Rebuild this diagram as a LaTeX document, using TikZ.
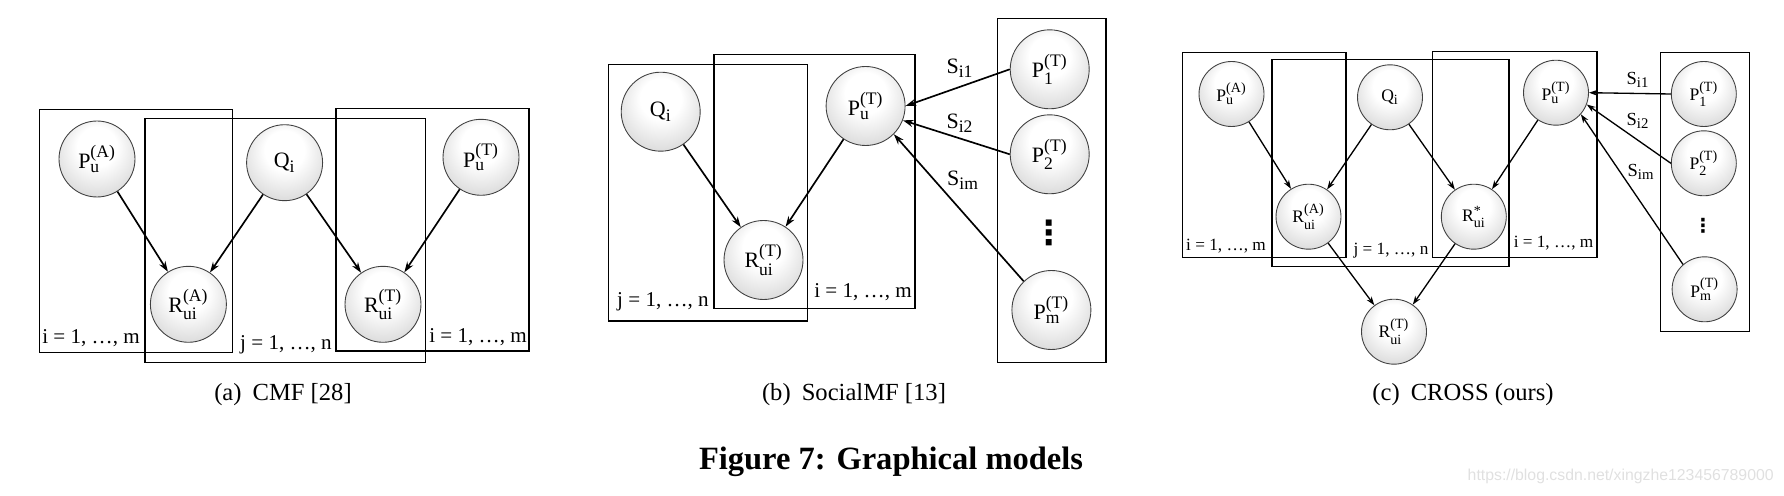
\documentclass[tikz,border=0pt]{standalone}
\usepackage{fontspec}
\setmainfont{Liberation Serif}
\newfontfamily\wmfont{Liberation Sans}
\newfontfamily\symfont{DejaVu Sans}
\usetikzlibrary{arrows.meta}

% soft white-to-grey fill of the variable nodes
\pgfdeclareradialshading{nodeshade}{\pgfpoint{0bp}{11bp}}{%
  color(0bp)=(white); color(13bp)=(white); color(36bp)=(black!19); color(50bp)=(black!28)}

% variable names with stacked index and superscript
\newcommand{\rv}[3]{$\mathrm{#1}_{\hbox{\scalebox{0.8}{#2}}}^{\hbox{\scalebox{0.8}{#3}}}$}
\newcommand{\rs}[2]{$\mathrm{#1}_{\hbox{\scalebox{0.8}{#2}}}$}

\begin{document}
\begin{tikzpicture}[x=0.02cm,y=-0.02cm,
  var/.style={circle, draw=black!75, line width=0.5pt, shade, shading=nodeshade, inner sep=0pt},
  vara/.style={var, minimum size=1.52cm, font=\fontsize{12.5}{14}\selectfont},
  varb/.style={var, minimum size=1.58cm, font=\fontsize{12.5}{14}\selectfont},
  varc/.style={var, minimum size=1.30cm, font=\fontsize{10}{12}\selectfont},
  plate/.style={draw=black, line width=0.6pt},
  platelab/.style={inner sep=0pt, font=\fontsize{12}{14}\selectfont},
  platelabc/.style={inner sep=0pt, font=\fontsize{9.8}{12}\selectfont},
  link/.style={-{Stealth[length=6pt,width=4pt]}, line width=0.95pt},
  linkc/.style={-{Stealth[length=5pt,width=3.4pt]}, line width=0.75pt},
  weight/.style={inner sep=0pt, font=\fontsize{12.5}{14}\selectfont},
  weightc/.style={inner sep=0pt, font=\fontsize{10.5}{12}\selectfont},
  caption/.style={inner sep=0pt, font=\fontsize{14}{16}\selectfont},
  ellip/.style={inner sep=0pt, font=\symfont\bfseries\fontsize{#1}{#1}\selectfont},
]
\useasboundingbox (0,0) rectangle (1784,496);

% ---------------- (a) CMF ----------------
\draw[plate] (39.5,109.3) rectangle (232.6,352.3);
\draw[plate] (145,118.3) rectangle (425.3,362.3);
\draw[plate] (336,108.3) rectangle (529,351);

\node[vara] (aPA) at (97,159) {\rv{P}{u}{(A)}};
\node[vara] (aQ)  at (284.6,162.7) {\rs{Q}{i}};
\node[vara] (aPT) at (481,157.3) {\rv{P}{u}{(T)}};
\node[vara] (aRA) at (188.4,304.3) {\rv{R}{ui}{(A)}};
\node[vara] (aRT) at (383,304.3) {\rv{R}{ui}{(T)}};

\node[platelab] (aLi) at (91,338) {i = 1, …, m};
\node[platelab] (aLj) at (286,345) {j = 1, …, n};
\node[platelab] (aLk) at (478,337) {i = 1, …, m};

\draw[link] (aPA) -- (aRA);
\draw[link] (aQ) -- (aRA);
\draw[link] (aQ) -- (aRT);
\draw[link] (aPT) -- (aRT);

\node[caption] (capa) at (283,395) {(a)\hspace{0.45em}CMF [28]};

% ---------------- (b) SocialMF ----------------
\draw[plate] (608.4,64.3) rectangle (807.4,321);
\draw[plate] (714,54.3) rectangle (915,308.3);
\draw[plate] (997.4,18.3) rectangle (1106,362.7);

\node[varb] (bQ)  at (660.7,111.7) {\rs{Q}{i}};
\node[varb] (bR)  at (763.5,260) {\rv{R}{ui}{(T)}};
\node[varb] (bPu) at (865.6,106) {\rv{P}{u}{(T)}};
\node[varb] (bP1) at (1049.7,69.3) {\rv{P}{1}{(T)}};
\node[varb] (bP2) at (1049.7,154.3) {\rv{P}{2}{(T)}};
\node[ellip=19] (bdots) at (1049.5,233) {⋮};
\node[varb] (bPm) at (1051.4,310) {\rv{P}{m}{(T)}};

\node[platelab] (bLj) at (663,301.7) {j = 1, …, n};
\node[platelab] (bLi) at (863,292.3) {i = 1, …, m};

\draw[link] (bQ) -- (bR);
\draw[link] (bPu) -- (bR);
\draw[link] (bP1.west) -- (bPu.east);
\draw[link] (bP2.west) -- (bPu.-21);
\draw[link] (bPm.134) -- (bPu.-45);

\node[weight] (bS1) at (960,68) {\rs{S}{i1}};
\node[weight] (bS2) at (960,123) {\rs{S}{i2}};
\node[weight] (bSm) at (963,180) {\rs{S}{im}};

\node[caption] (capb) at (854,395) {(b)\hspace{0.45em}SocialMF [13]};

% ---------------- (c) CROSS ----------------
\draw[plate] (1182.3,52.3) rectangle (1346,257.3);
\draw[plate] (1272,59.3) rectangle (1509,266.7);
\draw[plate] (1432.7,51.7) rectangle (1597,257.7);
\draw[plate] (1660.8,52.7) rectangle (1749.6,331.7);

\node[varc] (cPA) at (1231.5,94) {\rv{P}{u}{(A)}};
\node[varc] (cQ)  at (1390,97.3) {\rs{Q}{i}};
\node[varc] (cPu) at (1556,92.7) {\rv{P}{u}{(T)}};
\node[varc] (cRA) at (1308.5,216.7) {\rv{R}{ui}{(A)}};
\node[varc] (cRs) at (1473.8,216.7) {\rv{R}{ui}{*}};
\node[varc] (cRT) at (1394,331.7) {\rv{R}{ui}{(T)}};
\node[varc] (cP1) at (1703.8,94) {\rv{P}{1}{(T)}};
\node[varc] (cP2) at (1703.8,163.3) {\rv{P}{2}{(T)}};
\node[ellip=11] (cdots) at (1703,225.7) {⋮};
\node[varc] (cPm) at (1704.6,289.3) {\rv{P}{m}{(T)}};

\node[platelabc] (cLi) at (1226,246) {i = 1, …, m};
\node[platelabc] (cLj) at (1391,250.7) {j = 1, …, n};
\node[platelabc] (cLk) at (1553.5,243.3) {i = 1, …, m};

\draw[linkc] (cPA) -- (cRA);
\draw[linkc] (cQ) -- (cRA);
\draw[linkc] (cQ) -- (cRs);
\draw[linkc] (cPu) -- (cRs);
\draw[linkc] (cRA) -- (cRT);
\draw[linkc] (cRs) -- (cRT);
\draw[linkc] (cP1.west) -- (cPu.east);
\draw[linkc] (cP2.west) -- (cPu.-21);
\draw[linkc] (cPm.131) -- (cPu.-41);

\node[weightc] (cS1) at (1638,80) {\rs{S}{i1}};
\node[weightc] (cS2) at (1638,120.7) {\rs{S}{i2}};
\node[weightc] (cSm) at (1641,171.7) {\rs{S}{im}};

\node[caption] (capc) at (1463,395) {(c)\hspace{0.45em}CROSS (ours)};

% ---------------- figure title ----------------
\node[inner sep=0pt, font=\bfseries\fontsize{18.5}{22}\selectfont] (title) at (891,461.7) {Figure 7: Graphical models};
\node[inner sep=0pt, anchor=east, text=black!12, font=\wmfont\fontsize{9}{11}\selectfont] (wm) at (1774,476.7) {https://blog.csdn.net/xingzhe123456789000};
\end{tikzpicture}
\end{document}
